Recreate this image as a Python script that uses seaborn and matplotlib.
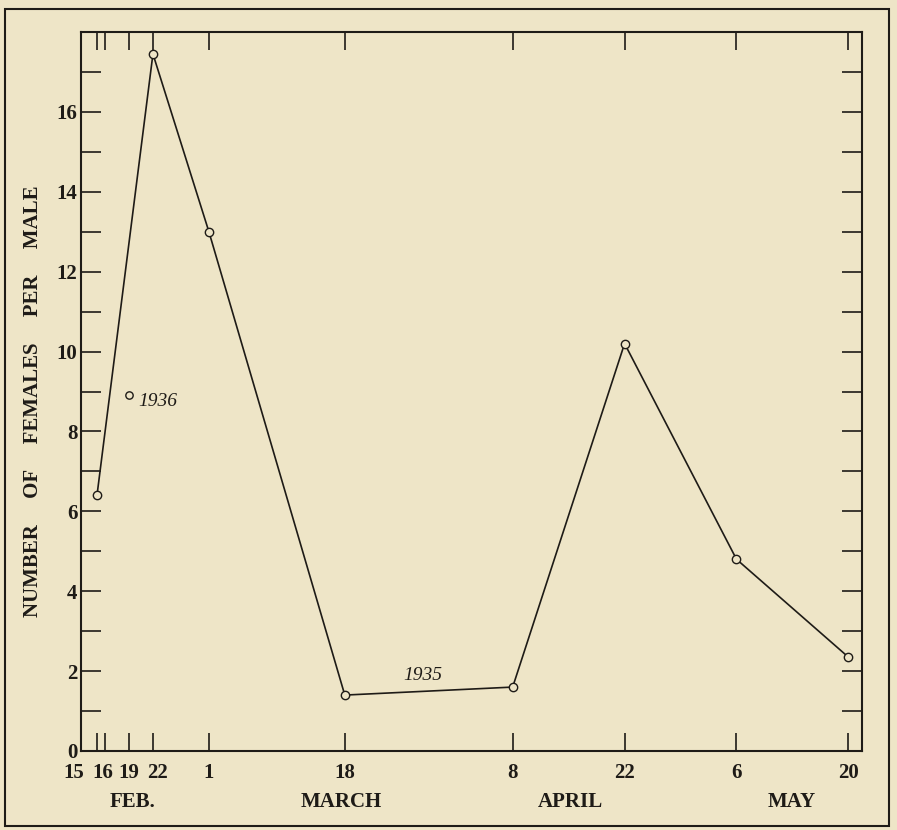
import matplotlib
matplotlib.use("Agg")
import matplotlib.pyplot as plt
import matplotlib.transforms as mtransforms
import pandas as pd
import seaborn as sns
from matplotlib.patches import Rectangle
from matplotlib.ticker import MultipleLocator

START = pd.Timestamp("1935-02-15")

# 1935 series: females per male on each collecting date
dates_1935 = ["1935-02-15", "1935-02-22", "1935-03-01", "1935-03-18",
              "1935-04-08", "1935-04-22", "1935-05-06", "1935-05-20"]
ratio_1935 = [6.4, 17.45, 13.0, 1.4, 1.6, 10.2, 4.8, 2.35]

# single 1936 count, drawn on the same calendar
dates_1936 = ["1935-02-19"]
ratio_1936 = [8.9]

tick_dates = ["1935-02-15", "1935-02-16", "1935-02-19", "1935-02-22", "1935-03-01",
              "1935-03-18", "1935-04-08", "1935-04-22", "1935-05-06", "1935-05-20"]
tick_labels = ["15", "16", "19", "22", "1", "18", "8", "22", "6", "20"]

months = ["FEB.", "MARCH", "APRIL", "MAY"]
month_pos = [4.4, 30.5, 59.2, 86.9]

INK = "#1e1b17"
PAPER = "#eee5c7"


def days(dates):
    return (pd.to_datetime(dates) - START).days


sns.set_theme(style="ticks")
plt.rcParams["font.family"] = ["Liberation Serif", "DejaVu Serif"]

df = pd.DataFrame({"day": days(dates_1935), "ratio": ratio_1935})

fig, ax = plt.subplots(figsize=(8.97, 8.30), dpi=100)
fig.patch.set_facecolor(PAPER)
ax.set_facecolor(PAPER)
fig.subplots_adjust(left=81 / 897, right=862 / 897, bottom=1 - 751 / 830, top=1 - 32 / 830)

sns.lineplot(data=df, x="day", y="ratio", ax=ax, color=INK, linewidth=1.2,
             marker="o", markersize=6, markerfacecolor=PAPER,
             markeredgecolor=INK, markeredgewidth=1.0)
sns.scatterplot(x=days(dates_1936), y=ratio_1936, ax=ax, s=28, color=PAPER,
                edgecolor=INK, linewidth=1.0, zorder=3)

ax.annotate("1936", xy=(days(dates_1936)[0], ratio_1936[0]), xytext=(7, -4),
            textcoords="offset points", ha="left", va="center",
            fontsize=14, fontstyle="italic", color=INK)
ax.text(40.8, 1.9, "1935", ha="center", va="center", fontsize=14,
        fontstyle="italic", color=INK)

ax.set_xlim(-2, 95.7)
ax.set_ylim(0, 18)
ax.set_xticks(days(tick_dates), tick_labels)
ax.set_yticks(range(0, 17, 2))
ax.yaxis.set_minor_locator(MultipleLocator(1))

for side in ax.spines.values():
    side.set_linewidth(1.5)
    side.set_color(INK)

ax.tick_params(axis="both", which="both", direction="in", top=True, right=True,
               color=INK, width=1.2, labelcolor=INK, labelsize=15)
ax.tick_params(axis="y", which="both", length=14.5, pad=2.5)
ax.tick_params(axis="x", which="both", length=13, pad=9)
for lab in ax.get_xticklabels() + ax.get_yticklabels():
    lab.set_fontweight("bold")

# the printed labels are nudged apart where the early ticks crowd together
nudge_px = {0: -23, 1: -2, 3: 5}
for i, lab in enumerate(ax.get_xticklabels()):
    if i in nudge_px:
        shift = mtransforms.ScaledTranslation(nudge_px[i] / fig.dpi, 0, fig.dpi_scale_trans)
        lab.set_transform(lab.get_transform() + shift)

for name, pos in zip(months, month_pos):
    ax.text(pos, -0.071, name, transform=ax.get_xaxis_transform(), ha="center",
            va="center", fontsize=15, fontweight="bold", color=INK)

ax.set_xlabel("")
gap = " " * 5
ax.set_ylabel(gap.join(["NUMBER", "OF", "FEMALES", "PER", "MALE"]), fontsize=15,
              fontweight="bold", color=INK, va="center")
ax.yaxis.set_label_coords(-0.0615, 0.487)

fig.add_artist(Rectangle((5 / 897, 1 - 826 / 830), 884 / 897, 817 / 830,
                         transform=fig.transFigure, fill=False, lw=1.5, ec=INK))

fig.savefig("out.png", dpi=100, facecolor=PAPER)
